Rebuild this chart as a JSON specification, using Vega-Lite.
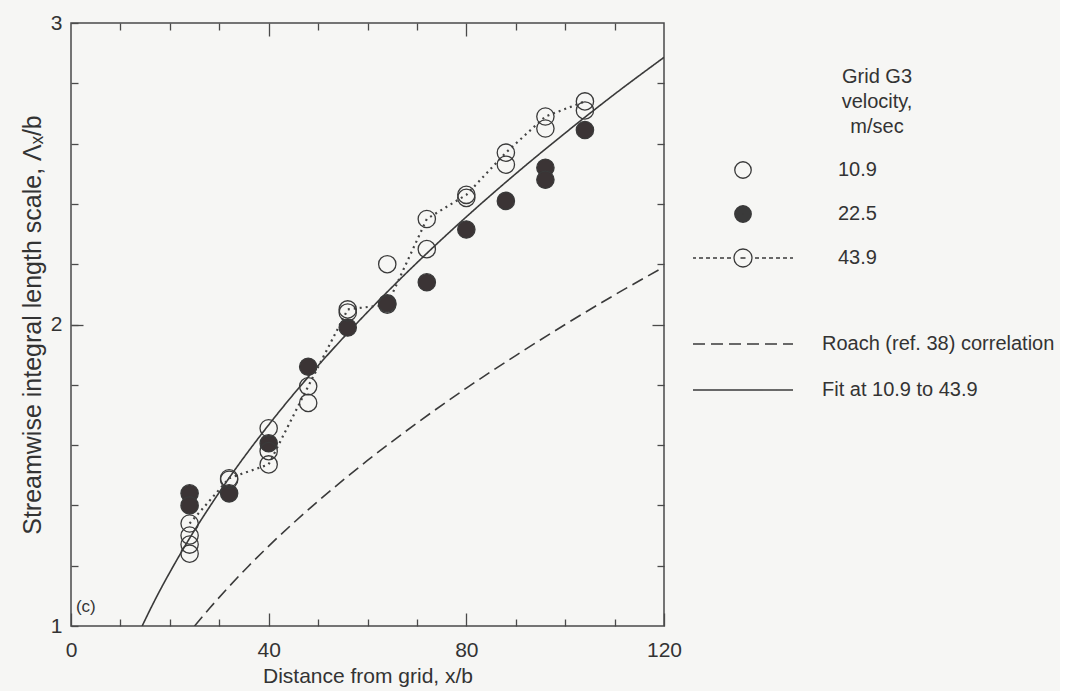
{
  "$schema": "https://vega.github.io/schema/vega-lite/v6.json",
  "background": "#f6f6f4",
  "padding": {"left": 20, "top": 12, "right": 5, "bottom": 5},
  "width": 593,
  "height": 603,
  "config": {
    "font": "Liberation Sans",
    "view": {"stroke": "#4a4a4a", "strokeWidth": 1.5},
    "axis": {"labelFontSize": 21, "titleFontSize": 21, "labelColor": "#333", "titleColor": "#333", "titleFontWeight": "normal", "domain": false, "grid": false, "ticks": true, "tickColor": "#4a4a4a", "tickWidth": 1.3, "labelFlush": false, "labelOverlap": false, "zindex": 1},
    "legend": {"labelFontSize": 20, "titleFontSize": 20, "labelColor": "#333", "titleColor": "#333", "titleFontWeight": "normal", "padding": 0, "labelLimit": 320, "symbolFillColor": "transparent"}
  },
  "datasets": {
    "points": [
      {"x": 24, "y": 1.44, "vel": "22.5"}, {"x": 24, "y": 1.40, "vel": "22.5"}, {"x": 32, "y": 1.44, "vel": "22.5"},
      {"x": 40, "y": 1.606, "vel": "22.5"}, {"x": 48, "y": 1.86, "vel": "22.5"}, {"x": 56, "y": 1.99, "vel": "22.5"},
      {"x": 64, "y": 2.07, "vel": "22.5"}, {"x": 72, "y": 2.14, "vel": "22.5"}, {"x": 80, "y": 2.315, "vel": "22.5"},
      {"x": 88, "y": 2.41, "vel": "22.5"}, {"x": 96, "y": 2.52, "vel": "22.5"}, {"x": 96, "y": 2.48, "vel": "22.5"},
      {"x": 104, "y": 2.645, "vel": "22.5"},
      {"x": 24, "y": 1.30, "vel": "10.9"}, {"x": 24, "y": 1.27, "vel": "10.9"}, {"x": 24, "y": 1.24, "vel": "10.9"},
      {"x": 32, "y": 1.485, "vel": "10.9"}, {"x": 40, "y": 1.656, "vel": "10.9"}, {"x": 40, "y": 1.58, "vel": "10.9"},
      {"x": 48, "y": 1.74, "vel": "10.9"}, {"x": 56, "y": 2.04, "vel": "10.9"}, {"x": 64, "y": 2.20, "vel": "10.9"},
      {"x": 72, "y": 2.25, "vel": "10.9"}, {"x": 80, "y": 2.42, "vel": "10.9"}, {"x": 88, "y": 2.53, "vel": "10.9"},
      {"x": 96, "y": 2.65, "vel": "10.9"}, {"x": 104, "y": 2.71, "vel": "10.9"},
      {"x": 24, "y": 1.34, "vel": "43.9"}, {"x": 32, "y": 1.49, "vel": "43.9"}, {"x": 40, "y": 1.536, "vel": "43.9"},
      {"x": 48, "y": 1.795, "vel": "43.9"}, {"x": 56, "y": 2.05, "vel": "43.9"}, {"x": 64, "y": 2.066, "vel": "43.9"},
      {"x": 72, "y": 2.35, "vel": "43.9"}, {"x": 80, "y": 2.43, "vel": "43.9"}, {"x": 88, "y": 2.57, "vel": "43.9"},
      {"x": 96, "y": 2.69, "vel": "43.9"}, {"x": 104, "y": 2.74, "vel": "43.9"}
    ],
    "curves": [
      {"x": 25, "y": 1.0, "curve": "Roach (ref. 38) correlation"},
      {"x": 28, "y": 1.058, "curve": "Roach (ref. 38) correlation"},
      {"x": 32, "y": 1.131, "curve": "Roach (ref. 38) correlation"},
      {"x": 36, "y": 1.2, "curve": "Roach (ref. 38) correlation"},
      {"x": 40, "y": 1.265, "curve": "Roach (ref. 38) correlation"},
      {"x": 50, "y": 1.414, "curve": "Roach (ref. 38) correlation"},
      {"x": 60, "y": 1.549, "curve": "Roach (ref. 38) correlation"},
      {"x": 70, "y": 1.673, "curve": "Roach (ref. 38) correlation"},
      {"x": 80, "y": 1.789, "curve": "Roach (ref. 38) correlation"},
      {"x": 90, "y": 1.897, "curve": "Roach (ref. 38) correlation"},
      {"x": 100, "y": 2.0, "curve": "Roach (ref. 38) correlation"},
      {"x": 110, "y": 2.098, "curve": "Roach (ref. 38) correlation"},
      {"x": 120, "y": 2.191, "curve": "Roach (ref. 38) correlation"},
      {"x": 14.4, "y": 1.0, "curve": "Fit at 10.9 to 43.9"},
      {"x": 16, "y": 1.054, "curve": "Fit at 10.9 to 43.9"},
      {"x": 18, "y": 1.118, "curve": "Fit at 10.9 to 43.9"},
      {"x": 20, "y": 1.178, "curve": "Fit at 10.9 to 43.9"},
      {"x": 24, "y": 1.291, "curve": "Fit at 10.9 to 43.9"},
      {"x": 28, "y": 1.394, "curve": "Fit at 10.9 to 43.9"},
      {"x": 32, "y": 1.491, "curve": "Fit at 10.9 to 43.9"},
      {"x": 40, "y": 1.667, "curve": "Fit at 10.9 to 43.9"},
      {"x": 48, "y": 1.826, "curve": "Fit at 10.9 to 43.9"},
      {"x": 56, "y": 1.972, "curve": "Fit at 10.9 to 43.9"},
      {"x": 64, "y": 2.108, "curve": "Fit at 10.9 to 43.9"},
      {"x": 72, "y": 2.236, "curve": "Fit at 10.9 to 43.9"},
      {"x": 80, "y": 2.357, "curve": "Fit at 10.9 to 43.9"},
      {"x": 90, "y": 2.5, "curve": "Fit at 10.9 to 43.9"},
      {"x": 100, "y": 2.635, "curve": "Fit at 10.9 to 43.9"},
      {"x": 110, "y": 2.764, "curve": "Fit at 10.9 to 43.9"},
      {"x": 120, "y": 2.886, "curve": "Fit at 10.9 to 43.9"}
    ]
  },
  "resolve": {"axis": {"x": "independent", "y": "independent"}},
  "layer": [
    {
      "data": {"name": "curves"},
      "mark": {"type": "line", "color": "#3a3a3a", "strokeWidth": 1.6, "interpolate": "monotone", "clip": true},
      "encoding": {
        "x": {"field": "x", "type": "quantitative", "scale": {"domain": [0, 120], "nice": false, "zero": false},
          "axis": {"orient": "bottom", "title": "Distance from grid, x/b", "values": [0, 40, 80, 120], "tickCount": 30,
            "labelExpr": "'' + datum.value", "tickSize": -13, "labelPadding": 26, "titlePadding": 5}},
        "y": {"field": "y", "type": "quantitative", "scale": {"domain": [1, 3], "nice": false, "zero": false},
          "axis": {"orient": "left", "title": "Streamwise integral length scale, Λₓ/b", "titleFontSize": 25,
            "values": [1, 1.2, 1.4, 1.6, 1.8, 2, 2.2, 2.4, 2.6, 2.8, 3], "tickCount": 30,
            "labelExpr": "(datum.value === 1 || datum.value === 2 || datum.value === 3) ? '' + datum.value : ''",
            "tickSize": -7, "labelPadding": 16, "titlePadding": 5}},
        "strokeDash": {"field": "curve", "type": "nominal",
          "scale": {"domain": ["Roach (ref. 38) correlation", "Fit at 10.9 to 43.9"], "range": [[12, 6], [1, 0]]},
          "legend": {"title": null, "orient": "none", "legendX": 621, "legendY": 309, "symbolType": "stroke", "symbolSize": 10000,
            "clipHeight": 24, "rowPadding": 22, "labelOffset": 28, "symbolStrokeWidth": 1.6, "symbolStrokeColor": "#3a3a3a"}}
      }
    },
    {
      "data": {"name": "points"},
      "transform": [{"filter": "datum.vel === '43.9'"}],
      "mark": {"type": "line", "color": "#444", "strokeWidth": 2.2, "strokeDash": [2, 4]},
      "encoding": {
        "x": {"field": "x", "type": "quantitative",
          "axis": {"orient": "top", "title": null, "labels": false, "values": [40, 80], "tickCount": 30, "tickSize": -13}},
        "y": {"field": "y", "type": "quantitative",
          "axis": {"orient": "right", "title": null, "labels": false, "values": [2], "tickCount": 30, "tickSize": -12}}
      }
    },
    {
      "data": {"name": "points"},
      "mark": {"type": "point", "shape": "circle", "size": 300, "stroke": "#3a3a3a", "strokeWidth": 1.3, "opacity": 1, "filled": true},
      "encoding": {
        "x": {"field": "x", "type": "quantitative",
          "axis": {"orient": "bottom", "title": null, "labels": false, "values": [10, 20, 30, 50, 60, 70, 90, 100, 110], "tickCount": 30, "tickSize": -7}},
        "y": {"field": "y", "type": "quantitative",
          "axis": {"orient": "left", "title": null, "labels": false, "values": [2], "tickCount": 30, "tickSize": -12}},
        "color": {"field": "vel", "type": "nominal",
          "scale": {"domain": ["22.5", "10.9", "43.9"], "range": ["#3b3435", "transparent", "transparent"]},
          "legend": null}
      }
    },
    {
      "data": {"name": "points"},
      "mark": {"type": "point", "stroke": "#3a3a3a", "strokeWidth": 1.3, "opacity": 0, "size": 10000, "filled": true, "clip": true},
      "encoding": {
        "x": {"field": "x", "type": "quantitative",
          "axis": {"orient": "top", "title": null, "labels": false, "values": [10, 20, 30, 50, 60, 70, 90, 100, 110], "tickCount": 30, "tickSize": -7}},
        "y": {"field": "y", "type": "quantitative",
          "axis": {"orient": "right", "title": null, "labels": false, "values": [1.2, 1.4, 1.6, 1.8, 2.2, 2.4, 2.6, 2.8], "tickCount": 30, "tickSize": -7}},
        "fill": {"field": "vel", "type": "nominal",
          "scale": {"domain": ["10.9", "22.5", "43.9"], "range": ["transparent", "#3b3435", "transparent"]},
          "legend": {"title": ["Grid G3", "velocity,", "m/sec"], "orient": "none", "legendX": 621, "legendY": 44,
            "symbolSize": 10000, "clipHeight": 24, "rowPadding": 20, "labelOffset": 44, "titleAlign": "center", "titleAnchor": "end",
            "titleLineHeight": 25, "titlePadding": 21, "symbolOpacity": 1, "symbolStrokeColor": "#3a3a3a", "symbolStrokeWidth": 1.3, "symbolFillColor": "transparent"}},
        "shape": {"field": "vel", "type": "nominal",
          "scale": {"domain": ["10.9", "22.5", "43.9"], "range": [
            "M-0.165,0A0.165,0.165 0 1,0 0.165,0A0.165,0.165 0 1,0 -0.165,0Z",
            "M-0.165,0A0.165,0.165 0 1,0 0.165,0A0.165,0.165 0 1,0 -0.165,0ZM-0.145,0A0.145,0.145 0 1,0 0.145,0A0.145,0.145 0 1,0 -0.145,0ZM-0.125,0A0.125,0.125 0 1,0 0.125,0A0.125,0.125 0 1,0 -0.125,0ZM-0.105,0A0.105,0.105 0 1,0 0.105,0A0.105,0.105 0 1,0 -0.105,0ZM-0.085,0A0.085,0.085 0 1,0 0.085,0A0.085,0.085 0 1,0 -0.085,0ZM-0.065,0A0.065,0.065 0 1,0 0.065,0A0.065,0.065 0 1,0 -0.065,0ZM-0.045,0A0.045,0.045 0 1,0 0.045,0A0.045,0.045 0 1,0 -0.045,0ZM-0.025,0A0.025,0.025 0 1,0 0.025,0A0.025,0.025 0 1,0 -0.025,0ZM-0.008,0H0.008",
            "M-0.18,0A0.18,0.18 0 1,0 0.18,0A0.18,0.18 0 1,0 -0.18,0M-1,0H-0.94M-0.88,0H-0.8M-0.74,0H-0.66M-0.6,0H-0.52M-0.46,0H-0.38M-0.32,0H-0.24M-0.05,0H0.05M0.24,0H0.32M0.38,0H0.46M0.52,0H0.6M0.66,0H0.74M0.8,0H0.88M0.94,0H1"]},
          "legend": {"title": ["Grid G3", "velocity,", "m/sec"], "symbolFillColor": "transparent"}}
      }
    },
    {
      "data": {"values": [{}]},
      "mark": {"type": "text", "text": "(c)", "fontSize": 17, "align": "left", "baseline": "bottom", "color": "#333"},
      "encoding": {
        "x": {"datum": 1.0, "type": "quantitative", "axis": null},
        "y": {"datum": 1.033, "type": "quantitative", "axis": null}
      }
    }
  ]
}
